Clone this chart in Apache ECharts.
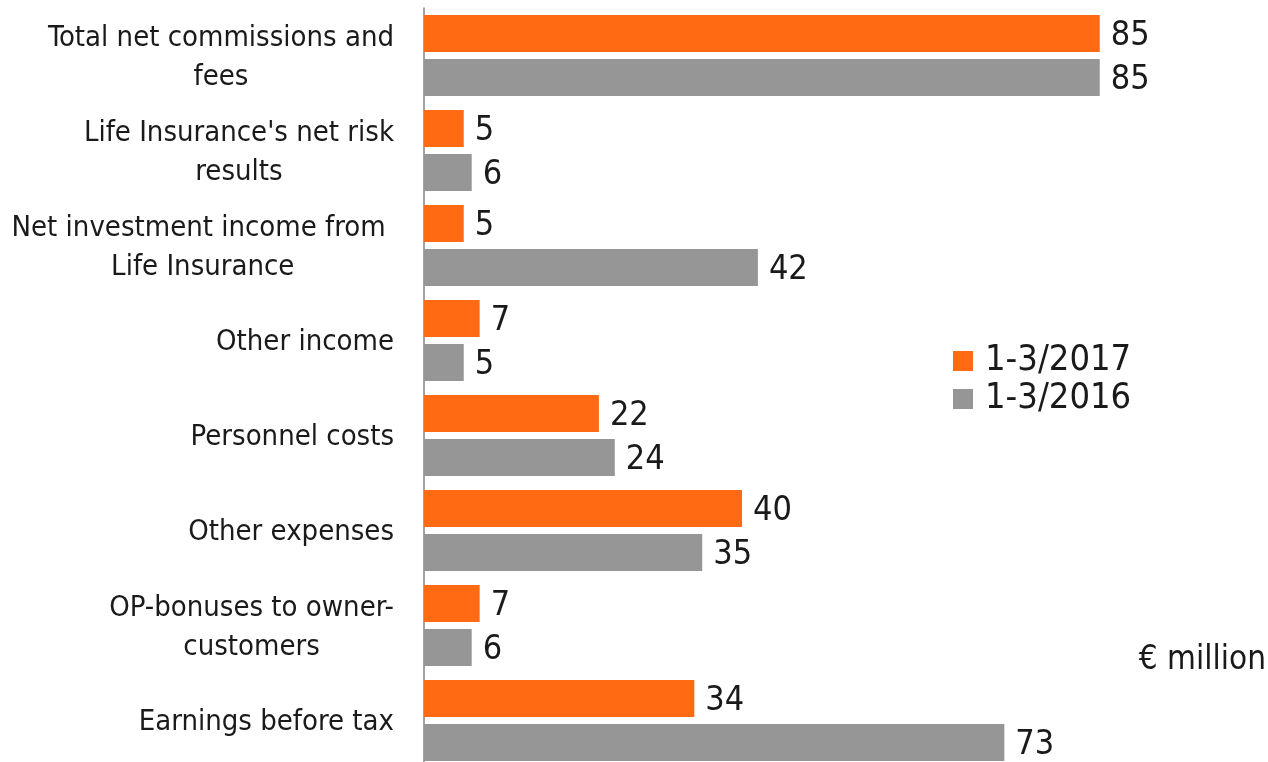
<!DOCTYPE html>
<html>
<head>
<meta charset="utf-8">
<script src="https://cdn.jsdelivr.net/npm/echarts@6/dist/echarts.min.js"></script>
<style>
html,body{margin:0;padding:0;background:#fff;}
#chart{width:1268px;height:762px;}
</style>
</head>
<body>
<div id="chart"></div>
<script>
const categories = [
  "Total net commissions and\nfees",
  "Life Insurance's net risk\nresults",
  "Net investment income from \nLife Insurance",
  "Other income",
  "Personnel costs",
  "Other expenses",
  "OP-bonuses to owner-\ncustomers",
  "Earnings before tax"
];
const seriesNames = ["1-3/2017", "1-3/2016"];
const values2017 = [85, 5, 5, 7, 22, 40, 7, 34];
const values2016 = [85, 6, 42, 5, 24, 35, 6, 73];
const unitLabel = "€ million";

const FONT = "DejaVu Sans Condensed, DejaVu Sans, sans-serif";
const chart = echarts.init(document.getElementById('chart'));

const valueLabel = {
  show: true,
  position: 'right',
  distance: 11,
  offset: [0, 3],
  fontFamily: FONT,
  fontSize: 34,
  color: '#1a1a1a'
};

chart.setOption({
  animation: false,
  title: {
    text: unitLabel,
    right: -3,
    top: 639,
    textStyle: { fontFamily: FONT, fontSize: 33, fontWeight: 'normal', color: '#1a1a1a' }
  },
  legend: {
    orient: 'vertical',
    left: 953,
    top: 343,
    padding: 0,
    itemWidth: 20,
    itemHeight: 20,
    itemGap: 2,
    icon: 'rect',
    textStyle: { fontFamily: FONT, fontSize: 36, color: '#1a1a1a', padding: [0, 0, 0, 7] },
    data: seriesNames
  },
  grid: { left: 424, top: 8, width: 795, height: 760, containLabel: false, outerBoundsMode: 'none' },
  xAxis: {
    type: 'value', min: 0, max: 100, show: false
  },
  yAxis: {
    type: 'category',
    inverse: true,
    data: categories,
    axisLine: { show: true, lineStyle: { color: '#858585', width: 1.5 } },
    axisTick: { show: false },
    axisLabel: {
      margin: 30,
      align: 'right',
      padding: [4, 0, 0, 0],
      formatter: function (v) {
        return v.split('\n').map(function (s) { return '{c|' + s + '}'; }).join('\n');
      },
      rich: {
        c: { fontFamily: FONT, fontSize: 29, lineHeight: 39, color: '#1a1a1a', align: 'center' }
      }
    }
  },
  series: [
    {
      name: seriesNames[0], type: 'bar', data: values2017,
      barWidth: 37, barGap: '19%',
      itemStyle: { color: '#FF6A13' },
      label: valueLabel
    },
    {
      name: seriesNames[1], type: 'bar', data: values2016,
      barWidth: 37, barGap: '19%',
      itemStyle: { color: '#969696' },
      label: valueLabel
    }
  ]
});
</script>
</body>
</html>
